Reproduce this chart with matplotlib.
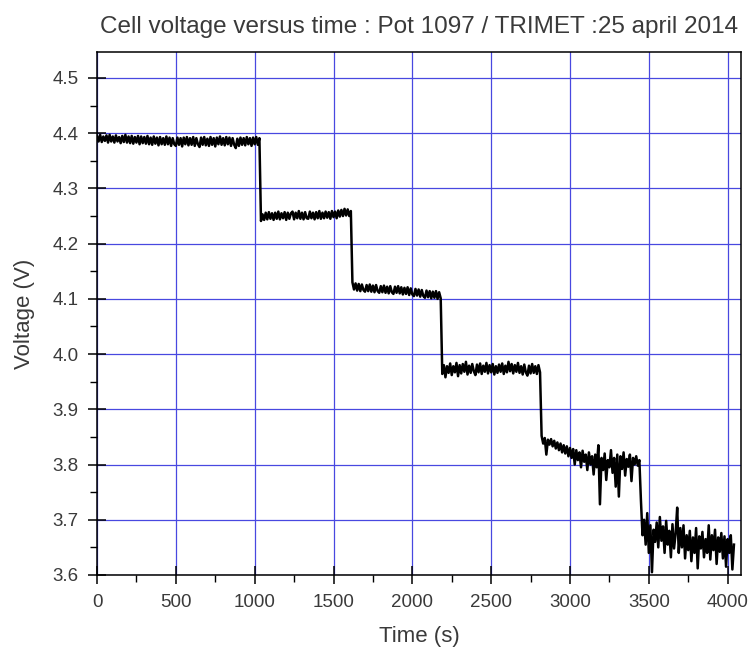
import numpy as np
import matplotlib

matplotlib.use("Agg")
import matplotlib.pyplot as plt
from matplotlib.ticker import MultipleLocator

DT = 10  # s between samples

# plateau 1 : 0 .. 1030 s
seg1 = [4.395, 4.385, 4.397, 4.384, 4.394, 4.386, 4.396, 4.383, 4.397, 4.385,
        4.394, 4.383, 4.396, 4.385, 4.393, 4.382, 4.395, 4.384, 4.397, 4.383,
        4.394, 4.382, 4.395, 4.381, 4.393, 4.383, 4.395, 4.380, 4.394, 4.382,
        4.393, 4.381, 4.395, 4.380, 4.392, 4.379, 4.394, 4.381, 4.392, 4.378,
        4.393, 4.380, 4.391, 4.379, 4.394, 4.380, 4.392, 4.377, 4.391, 4.380,
        4.377, 4.392, 4.379, 4.391, 4.376, 4.392, 4.380, 4.393, 4.378, 4.391,
        4.379, 4.393, 4.377, 4.391, 4.380, 4.375, 4.392, 4.379, 4.393, 4.378,
        4.390, 4.377, 4.393, 4.379, 4.391, 4.376, 4.392, 4.380, 4.394, 4.379,
        4.391, 4.378, 4.393, 4.380, 4.392, 4.377, 4.391, 4.379, 4.373, 4.390,
        4.377, 4.392, 4.379, 4.391, 4.378, 4.393, 4.380, 4.391, 4.377, 4.392,
        4.380, 4.393, 4.379, 4.391]
# plateau 2 : 1040 .. 1610 s
seg2 = [4.241, 4.253, 4.243, 4.256, 4.244, 4.257, 4.245, 4.255, 4.243, 4.256,
        4.245, 4.258, 4.244, 4.255, 4.246, 4.257, 4.243, 4.256, 4.245, 4.255,
        4.258, 4.244, 4.256, 4.246, 4.259, 4.245, 4.256, 4.244, 4.257, 4.246,
        4.245, 4.258, 4.246, 4.256, 4.244, 4.257, 4.246, 4.259, 4.245, 4.256,
        4.246, 4.258, 4.247, 4.257, 4.245, 4.259, 4.248, 4.258, 4.246, 4.260,
        4.249, 4.261, 4.250, 4.263, 4.251, 4.262, 4.250, 4.259]
# plateau 3 : 1620 .. 2180 s
seg3 = [4.130, 4.117, 4.128, 4.115, 4.127, 4.114, 4.126, 4.116, 4.113, 4.125,
        4.114, 4.126, 4.113, 4.124, 4.112, 4.125, 4.114, 4.111, 4.123, 4.112,
        4.124, 4.111, 4.122, 4.110, 4.123, 4.112, 4.109, 4.122, 4.111, 4.123,
        4.110, 4.121, 4.108, 4.120, 4.109, 4.121, 4.107, 4.119, 4.108, 4.105,
        4.118, 4.106, 4.117, 4.104, 4.116, 4.105, 4.102, 4.115, 4.103, 4.114,
        4.101, 4.113, 4.102, 4.114, 4.100, 4.112, 4.101]
# plateau 4 : 2190 .. 2810 s
seg4 = [3.964, 3.980, 3.958, 3.978, 3.966, 3.983, 3.962, 3.978, 3.967, 3.984,
        3.960, 3.980, 3.965, 3.982, 3.968, 3.986, 3.963, 3.979, 3.966, 3.982,
        3.969, 3.962, 3.981, 3.967, 3.983, 3.964, 3.979, 3.968, 3.984, 3.965,
        3.980, 3.967, 3.982, 3.963, 3.978, 3.966, 3.981, 3.968, 3.983, 3.964,
        3.979, 3.967, 3.986, 3.969, 3.982, 3.965, 3.980, 3.968, 3.984, 3.966,
        3.978, 3.963, 3.981, 3.967, 3.961, 3.979, 3.965, 3.982, 3.966, 3.978,
        3.964, 3.980, 3.967]
# plateau 5 : 2820 .. 3440 s
seg5 = [3.852, 3.838, 3.848, 3.818, 3.845, 3.836, 3.846, 3.833, 3.843, 3.829,
        3.840, 3.826, 3.838, 3.822, 3.835, 3.820, 3.833, 3.815, 3.830, 3.812,
        3.828, 3.800, 3.826, 3.808, 3.822, 3.795, 3.825, 3.805, 3.818, 3.790,
        3.822, 3.800, 3.815, 3.782, 3.818, 3.795, 3.835, 3.728, 3.812, 3.790,
        3.820, 3.772, 3.808, 3.795, 3.826, 3.785, 3.812, 3.760, 3.818, 3.742,
        3.815, 3.792, 3.822, 3.780, 3.810, 3.796, 3.818, 3.770, 3.812, 3.800,
        3.815, 3.798, 3.808]
# plateau 6 : 3450 .. 4040 s
seg6 = [3.735, 3.672, 3.700, 3.655, 3.712, 3.640, 3.690, 3.605, 3.682, 3.660,
        3.695, 3.650, 3.705, 3.662, 3.688, 3.640, 3.698, 3.655, 3.680, 3.632,
        3.692, 3.648, 3.675, 3.722, 3.640, 3.685, 3.650, 3.690, 3.630, 3.672,
        3.645, 3.680, 3.625, 3.668, 3.640, 3.685, 3.612, 3.670, 3.648, 3.678,
        3.632, 3.665, 3.640, 3.690, 3.628, 3.672, 3.645, 3.682, 3.620, 3.668,
        3.642, 3.676, 3.630, 3.670, 3.615, 3.665, 3.640, 3.672, 3.610, 3.655]

voltage = np.array(seg1 + seg2 + seg3 + seg4 + seg5 + seg6)
time_s = DT * np.arange(len(voltage))

# --- plot -------------------------------------------------------------------
plt.rcParams["font.family"] = ["Liberation Sans", "DejaVu Sans"]
GRIDBLUE, TICKINK = "#4848e0", "#3a3a3a"

fig = plt.figure(figsize=(7.48, 6.5), dpi=100)
ax = fig.add_axes([0.1297, 0.1154, 0.861, 0.8046])

ax.plot(time_s, voltage, color="black", lw=1.8, zorder=3)

ax.set_xlim(0, 4085)
ax.set_ylim(3.6, 4.547)
ax.xaxis.set_major_locator(MultipleLocator(500))
ax.xaxis.set_minor_locator(MultipleLocator(250))
ax.yaxis.set_major_locator(MultipleLocator(0.1))
ax.yaxis.set_minor_locator(MultipleLocator(0.05))
ax.yaxis.set_major_formatter(plt.FormatStrFormatter("%.1f"))

ax.grid(True, which="major", color=GRIDBLUE, lw=0.9, zorder=1)
ax.set_axisbelow(True)
for sp in ax.spines.values():
    sp.set_color("black")
    sp.set_linewidth(1.1)

ax.tick_params(which="major", direction="inout", length=13, width=1.1,
               labelsize=13.5, labelcolor=TICKINK, pad=7)
ax.tick_params(which="minor", direction="out", length=5, width=1.0)

ax.set_xlabel("Time (s)", fontsize=16, color=TICKINK, labelpad=11)
ax.set_ylabel("Voltage (V)", fontsize=16, color=TICKINK, labelpad=12)
ax.set_title("Cell voltage versus time : Pot 1097 / TRIMET :25 april 2014",
             fontsize=17.5, color=TICKINK, pad=14)

fig.savefig("out.png", dpi=100)
